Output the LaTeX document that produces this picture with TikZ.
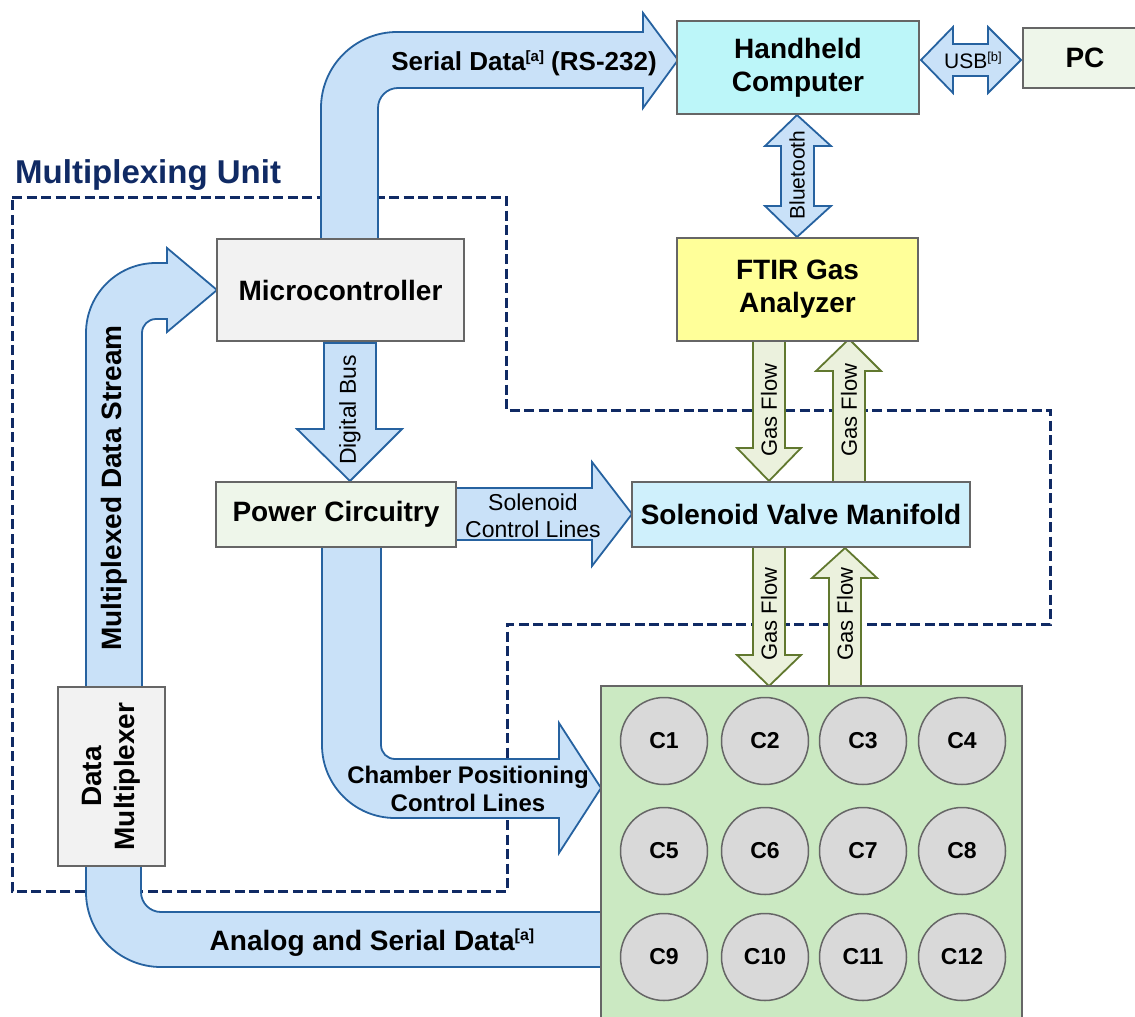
\documentclass[tikz,border=0pt]{standalone}
\usepackage{fontspec}
\setmainfont{Liberation Sans}
\pgfdeclarelayer{bg}
\pgfdeclarelayer{mid}
\pgfsetlayers{bg,mid,main}
\definecolor{navy}{RGB}{16,42,100}
\definecolor{arrowfill}{RGB}{201,225,248}
\definecolor{arrowline}{RGB}{38,98,160}
\definecolor{gasfill}{RGB}{235,241,221}
\definecolor{gasline}{RGB}{97,120,47}
\definecolor{boxline}{RGB}{102,102,102}
\definecolor{hhfill}{RGB}{188,246,249}
\definecolor{pcfill}{RGB}{238,246,234}
\definecolor{ftirfill}{RGB}{255,255,153}
\definecolor{svmfill}{RGB}{207,240,252}
\definecolor{grayfill}{RGB}{242,242,242}
\definecolor{chfill}{RGB}{203,233,194}
\definecolor{circfill}{RGB}{217,217,217}
\newcommand\fs[2]{\fontsize{#1}{#2}\selectfont}
\newcommand\supa[3]{\raisebox{#1}{\fs{#2}{#2}#3}}
\begin{document}
\begin{tikzpicture}[x=1pt,y=-1pt,
  box/.style={draw=boxline, line width=2pt, inner sep=0pt, align=center, font=\fs{28}{33}\bfseries},
  barrow/.style={fill=arrowfill, draw=arrowline, line width=1.8pt, line join=miter},
  garrow/.style={fill=gasfill, draw=gasline, line width=1.8pt, line join=miter},
  chamb/.style={circle, draw=boxline, fill=circfill, line width=1.5pt, minimum size=87pt, inner sep=0pt, font=\fs{23}{27}\bfseries},
  biglab/.style={font=\fs{28}{33}\bfseries, inner sep=0pt, align=center},
  gaslab/.style={font=\fs{22}{26}, rotate=90, inner sep=0pt}]
\useasboundingbox (0,0) rectangle (1135,1017);

% nodes
\node[box, fill=hhfill, minimum width=242pt, minimum height=93pt] (hh) at (798,67.5) {Handheld\\Computer};
\node[box, fill=pcfill, minimum width=124pt, minimum height=60pt] (pc) at (1085,58) {PC};
\node[box, fill=ftirfill, minimum width=241pt, minimum height=103pt] (ftir) at (797.5,289.5) {FTIR Gas\\Analyzer};
\node[box, fill=svmfill, minimum width=338pt, minimum height=65pt] (svm) at (801,514.5) {Solenoid Valve Manifold};
\node[box, fill=grayfill, minimum width=247pt, minimum height=102pt] (mc) at (340.5,290) {Microcontroller};
\node[box, fill=pcfill, minimum width=240pt, minimum height=65pt] (pwr) at (336,514.5) {Power Circuitry};
\node[box, fill=grayfill, rotate=90, minimum width=179pt, minimum height=107pt] (dmux) at (111.5,776.5) {Data\\Multiplexer};
\node[draw=boxline, fill=chfill, line width=2pt, minimum width=421pt, minimum height=344pt, inner sep=0pt] (ch) at (811.5,858) {};
\foreach \cx [count=\i] in {664,765,863,962}{
  \node[chamb] (c\i) at (\cx,741) {C\i};
  \pgfmathtruncatemacro\j{\i+4}
  \node[chamb] (c\j) at (\cx,851) {C\j};
  \pgfmathtruncatemacro\k{\i+8}
  \node[chamb] (c\k) at (\cx,957) {C\k};
}
\node[anchor=base west, inner sep=0pt, text=navy, font=\fs{33}{38}\bfseries] (title) at (15,183) {Multiplexing Unit};

% dashed boundary
\begin{pgfonlayer}{bg}
\draw[navy, line width=3pt, dash pattern=on 10pt off 4.5pt] (12,197) -- (506,197) -- (506,410) -- (1050,410) -- (1050,624) -- (507,624) -- (507,891) -- (12,891) -- cycle;
\end{pgfonlayer}

\begin{pgfonlayer}{mid}
% Serial data arrow: microcontroller -> handheld
\draw[barrow] (321,240) -- (321,108) arc[start angle=180,end angle=270,radius=76] -- (643,32) -- (643,13) -- (678,60) -- (643,108) -- (643,88) -- (398,88) arc[start angle=270,end angle=180,radius=20] -- (378,240) -- cycle;
% USB double arrow
\draw[barrow] (921,60) -- (953,27) -- (953,44) -- (988,44) -- (988,27) -- (1021,60) -- (988,93) -- (988,76) -- (953,76) -- (953,93) -- cycle;
% Bluetooth double arrow
\draw[barrow] (797,115) -- (831,146) -- (814,146) -- (814,206) -- (831,206) -- (797,237) -- (765,206) -- (781,206) -- (781,146) -- (765,146) -- cycle;
% Multiplexed data stream: mux -> microcontroller
\draw[barrow] (86,687) -- (86,333) arc[start angle=180,end angle=270,radius=70] -- (167,263) -- (167,248) -- (217,290) -- (167,332) -- (167,319) -- (156,319) arc[start angle=270,end angle=180,radius=14] -- (142,333) -- (142,687) -- cycle;
% Analog and serial data: chamber -> mux
\draw[barrow] (141,866) -- (141,892) arc[start angle=180,end angle=90,radius=20] -- (605,912) -- (605,967) -- (161,967) arc[start angle=90,end angle=180,radius=75] -- (86,866) -- cycle;
% Digital bus
\draw[barrow] (324,343) -- (324,429) -- (297,429) -- (350,481) -- (402,429) -- (376,429) -- (376,343) -- cycle;
% Solenoid control lines
\draw[barrow] (456,488) -- (592,488) -- (592,462) -- (632,514) -- (592,566) -- (592,540) -- (456,540) -- cycle;
% Chamber positioning control lines
\draw[barrow] (322,547) -- (322,745) arc[start angle=180,end angle=90,radius=73] -- (559,818) -- (559,853) -- (601,788) -- (559,723) -- (559,759) -- (395,759) arc[start angle=90,end angle=180,radius=14] -- (381,547) -- cycle;
% Gas flow arrows
\draw[garrow] (753,341) -- (753,448) -- (737,448) -- (769,481) -- (801,448) -- (785,448) -- (785,341) -- cycle;
\draw[garrow] (833,482) -- (833,371) -- (816,371) -- (849,339) -- (881,371) -- (865,371) -- (865,482) -- cycle;
\draw[garrow] (753,547) -- (753,655) -- (737,655) -- (769,686) -- (801,655) -- (785,655) -- (785,547) -- cycle;
\draw[garrow] (829,686) -- (829,578) -- (812,578) -- (845,548) -- (877,578) -- (861,578) -- (861,686) -- cycle;
\end{pgfonlayer}

% arrow labels
\node[font=\fs{26}{30}\bfseries, inner sep=0pt] (lser) at (524,63) {Serial Data\supa{9pt}{15}{[a]} (RS-232)};
\node[font=\fs{21}{25}, inner sep=0pt] (lusb) at (973,60) {USB\supa{7pt}{13}{[b]}};
\node[font=\fs{21}{25}, rotate=90, inner sep=0pt] (lbt) at (797,175) {Bluetooth};
\node[biglab, rotate=90] (lmds) at (114,488) {Multiplexed Data Stream};
\node[biglab] (lasd) at (372,943) {Analog and Serial Data\supa{10pt}{16}{[a]}};
\node[font=\fs{23}{27}, rotate=90, inner sep=0pt] (ldb) at (350,410) {Digital Bus};
\node[font=\fs{23}{27}, align=center, inner sep=0pt] (lscl) at (533,516) {Solenoid\\Control Lines};
\node[font=\fs{24}{28}\bfseries, align=center, inner sep=0pt] (lcpc) at (468,789) {Chamber Positioning\\Control Lines};
\node[gaslab] (g1) at (769,410) {Gas Flow};
\node[gaslab] (g2) at (849,410) {Gas Flow};
\node[gaslab] (g3) at (769,614) {Gas Flow};
\node[gaslab] (g4) at (845,614) {Gas Flow};
\end{tikzpicture}
\end{document}
